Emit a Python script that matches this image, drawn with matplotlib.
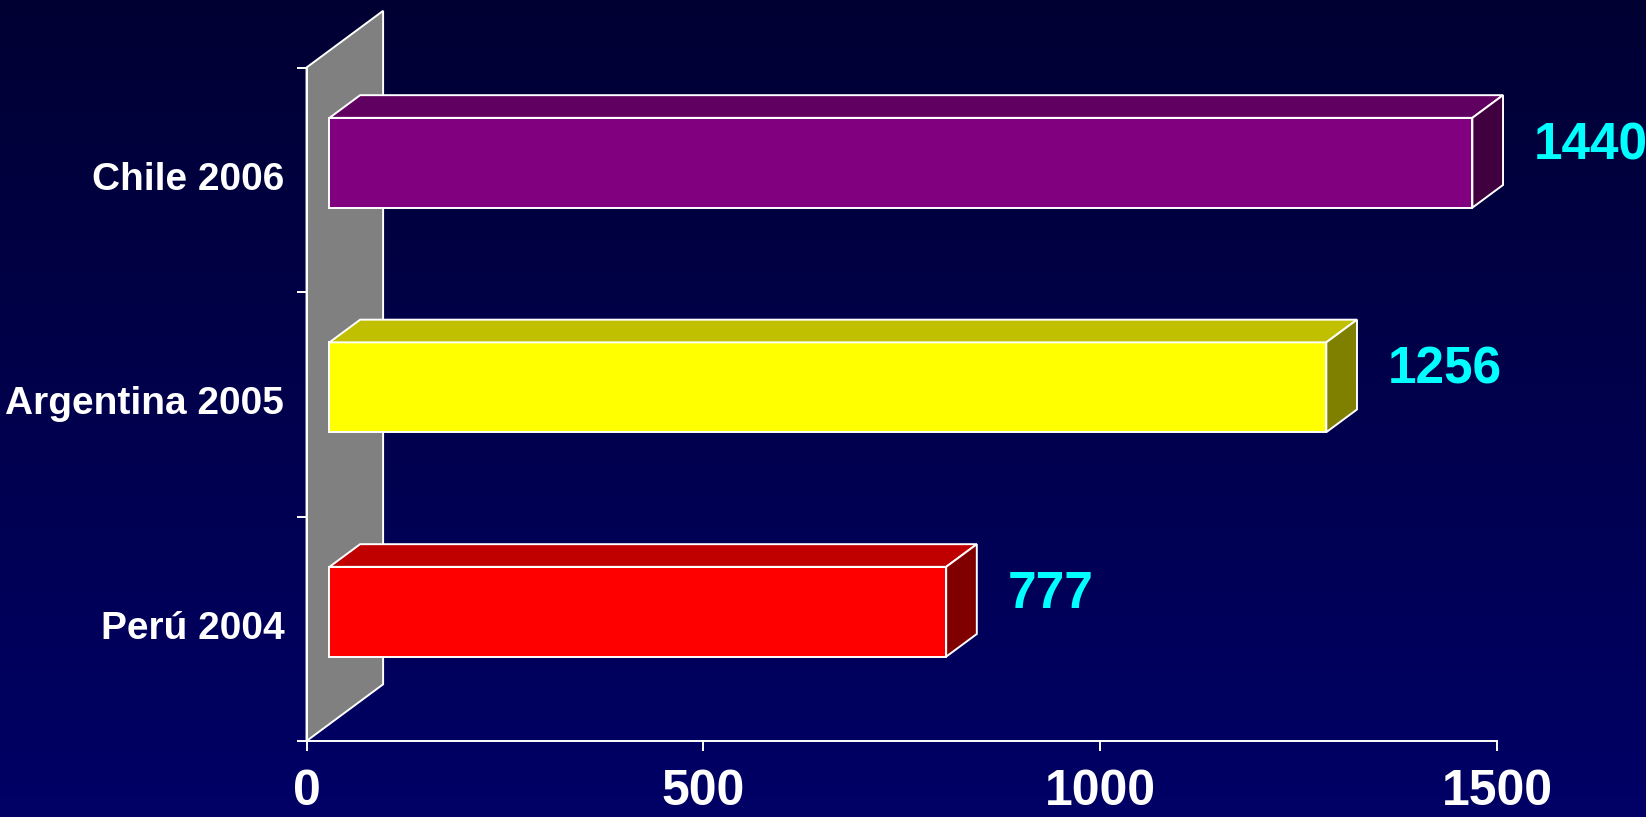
import numpy as np
import matplotlib.pyplot as plt
from matplotlib.patches import Polygon

# data
categories = ['Perú 2004', 'Argentina 2005', 'Chile 2006']
values = [777, 1256, 1440]
xticks = [0, 500, 1000, 1500]

front_colors = ['#ff0000', '#ffff00', '#800080']
top_colors = ['#c00000', '#c0c000', '#600060']
side_colors = ['#800000', '#808000', '#400040']

# fake 3d look (depth of the wall, in data units)
depth_x = 96.5
depth_y = 0.2525
bar_h = 0.4
near, far = 0.3, 0.7   # where the bar sits inside the depth

plt.rcParams['font.family'] = ['Liberation Sans', 'DejaVu Sans']
plt.rcParams['font.weight'] = 'bold'

fig = plt.figure(figsize=(16.46, 8.17), dpi=100)

# background gradient
bg = fig.add_axes([0, 0, 1, 1], zorder=-1)
grad = np.linspace(0, 1, 256).reshape(-1, 1)
top_c = np.array([0, 0, 0x33]) / 255
bot_c = np.array([0, 0, 0x66]) / 255
img = top_c + grad[..., None] * (bot_c - top_c)
bg.imshow(img, aspect='auto', extent=[0, 1, 0, 1])
bg.axis('off')

ax = fig.add_axes([0, 0, 1, 1])
ax.set_facecolor('none')
ax.set_xlim(-386.2, 1687.7)
ax.set_ylim(-0.3385, 3.3007)

# side wall
wall = Polygon([(0, 0), (0, 3), (depth_x, 3 + depth_y), (depth_x, depth_y)],
               closed=True, facecolor='#808080', edgecolor='white', lw=1.4, zorder=1)
ax.add_patch(wall)

for i, v in enumerate(values):
    x1, x2 = near * depth_x, far * depth_x
    y1, y2 = near * depth_y, far * depth_y
    lo, hi = i + 0.5 - bar_h / 2, i + 0.5 + bar_h / 2
    front = Polygon([(x1, lo + y1), (x1 + v, lo + y1), (x1 + v, hi + y1), (x1, hi + y1)],
                    facecolor=front_colors[i], edgecolor='white', lw=1.4, zorder=3)
    top = Polygon([(x1, hi + y1), (x1 + v, hi + y1), (x2 + v, hi + y2), (x2, hi + y2)],
                  facecolor=top_colors[i], edgecolor='white', lw=1.4, zorder=3)
    side = Polygon([(x1 + v, lo + y1), (x1 + v, hi + y1), (x2 + v, hi + y2), (x2 + v, lo + y2)],
                   facecolor=side_colors[i], edgecolor='white', lw=1.4, zorder=3)
    for p in (front, top, side):
        ax.add_patch(p)
    ax.annotate(str(v), xy=(x2 + v, i + 0.5 + 0.6 * depth_y), xytext=(22, 0),
                textcoords='offset points', ha='left', va='center',
                color='#00ffff', fontsize=37, fontweight='bold')

for s in ['top', 'right']:
    ax.spines[s].set_visible(False)
ax.spines['left'].set_position(('data', 0))
ax.spines['left'].set_bounds(0, 3)
ax.spines['bottom'].set_position(('data', 0))
ax.spines['bottom'].set_bounds(0, 1500)
for s in ['left', 'bottom']:
    ax.spines[s].set_color('white')
    ax.spines[s].set_linewidth(1.4)

ax.set_xticks(xticks)
ax.set_xticklabels([str(t) for t in xticks])
ax.tick_params(axis='x', colors='white', length=7.5, width=1.4, pad=13, labelsize=36)

ax.set_yticks([0, 1, 2, 3])
ax.set_yticklabels([])
ax.set_yticks([0.5, 1.5, 2.5], minor=True)
ax.set_yticklabels(categories, minor=True, va='center')
ax.tick_params(axis='y', which='major', colors='white', length=7.5, width=1.4)
ax.tick_params(axis='y', which='minor', colors='white', length=0, pad=16, labelsize=28)

fig.savefig('out.png', dpi=100)
